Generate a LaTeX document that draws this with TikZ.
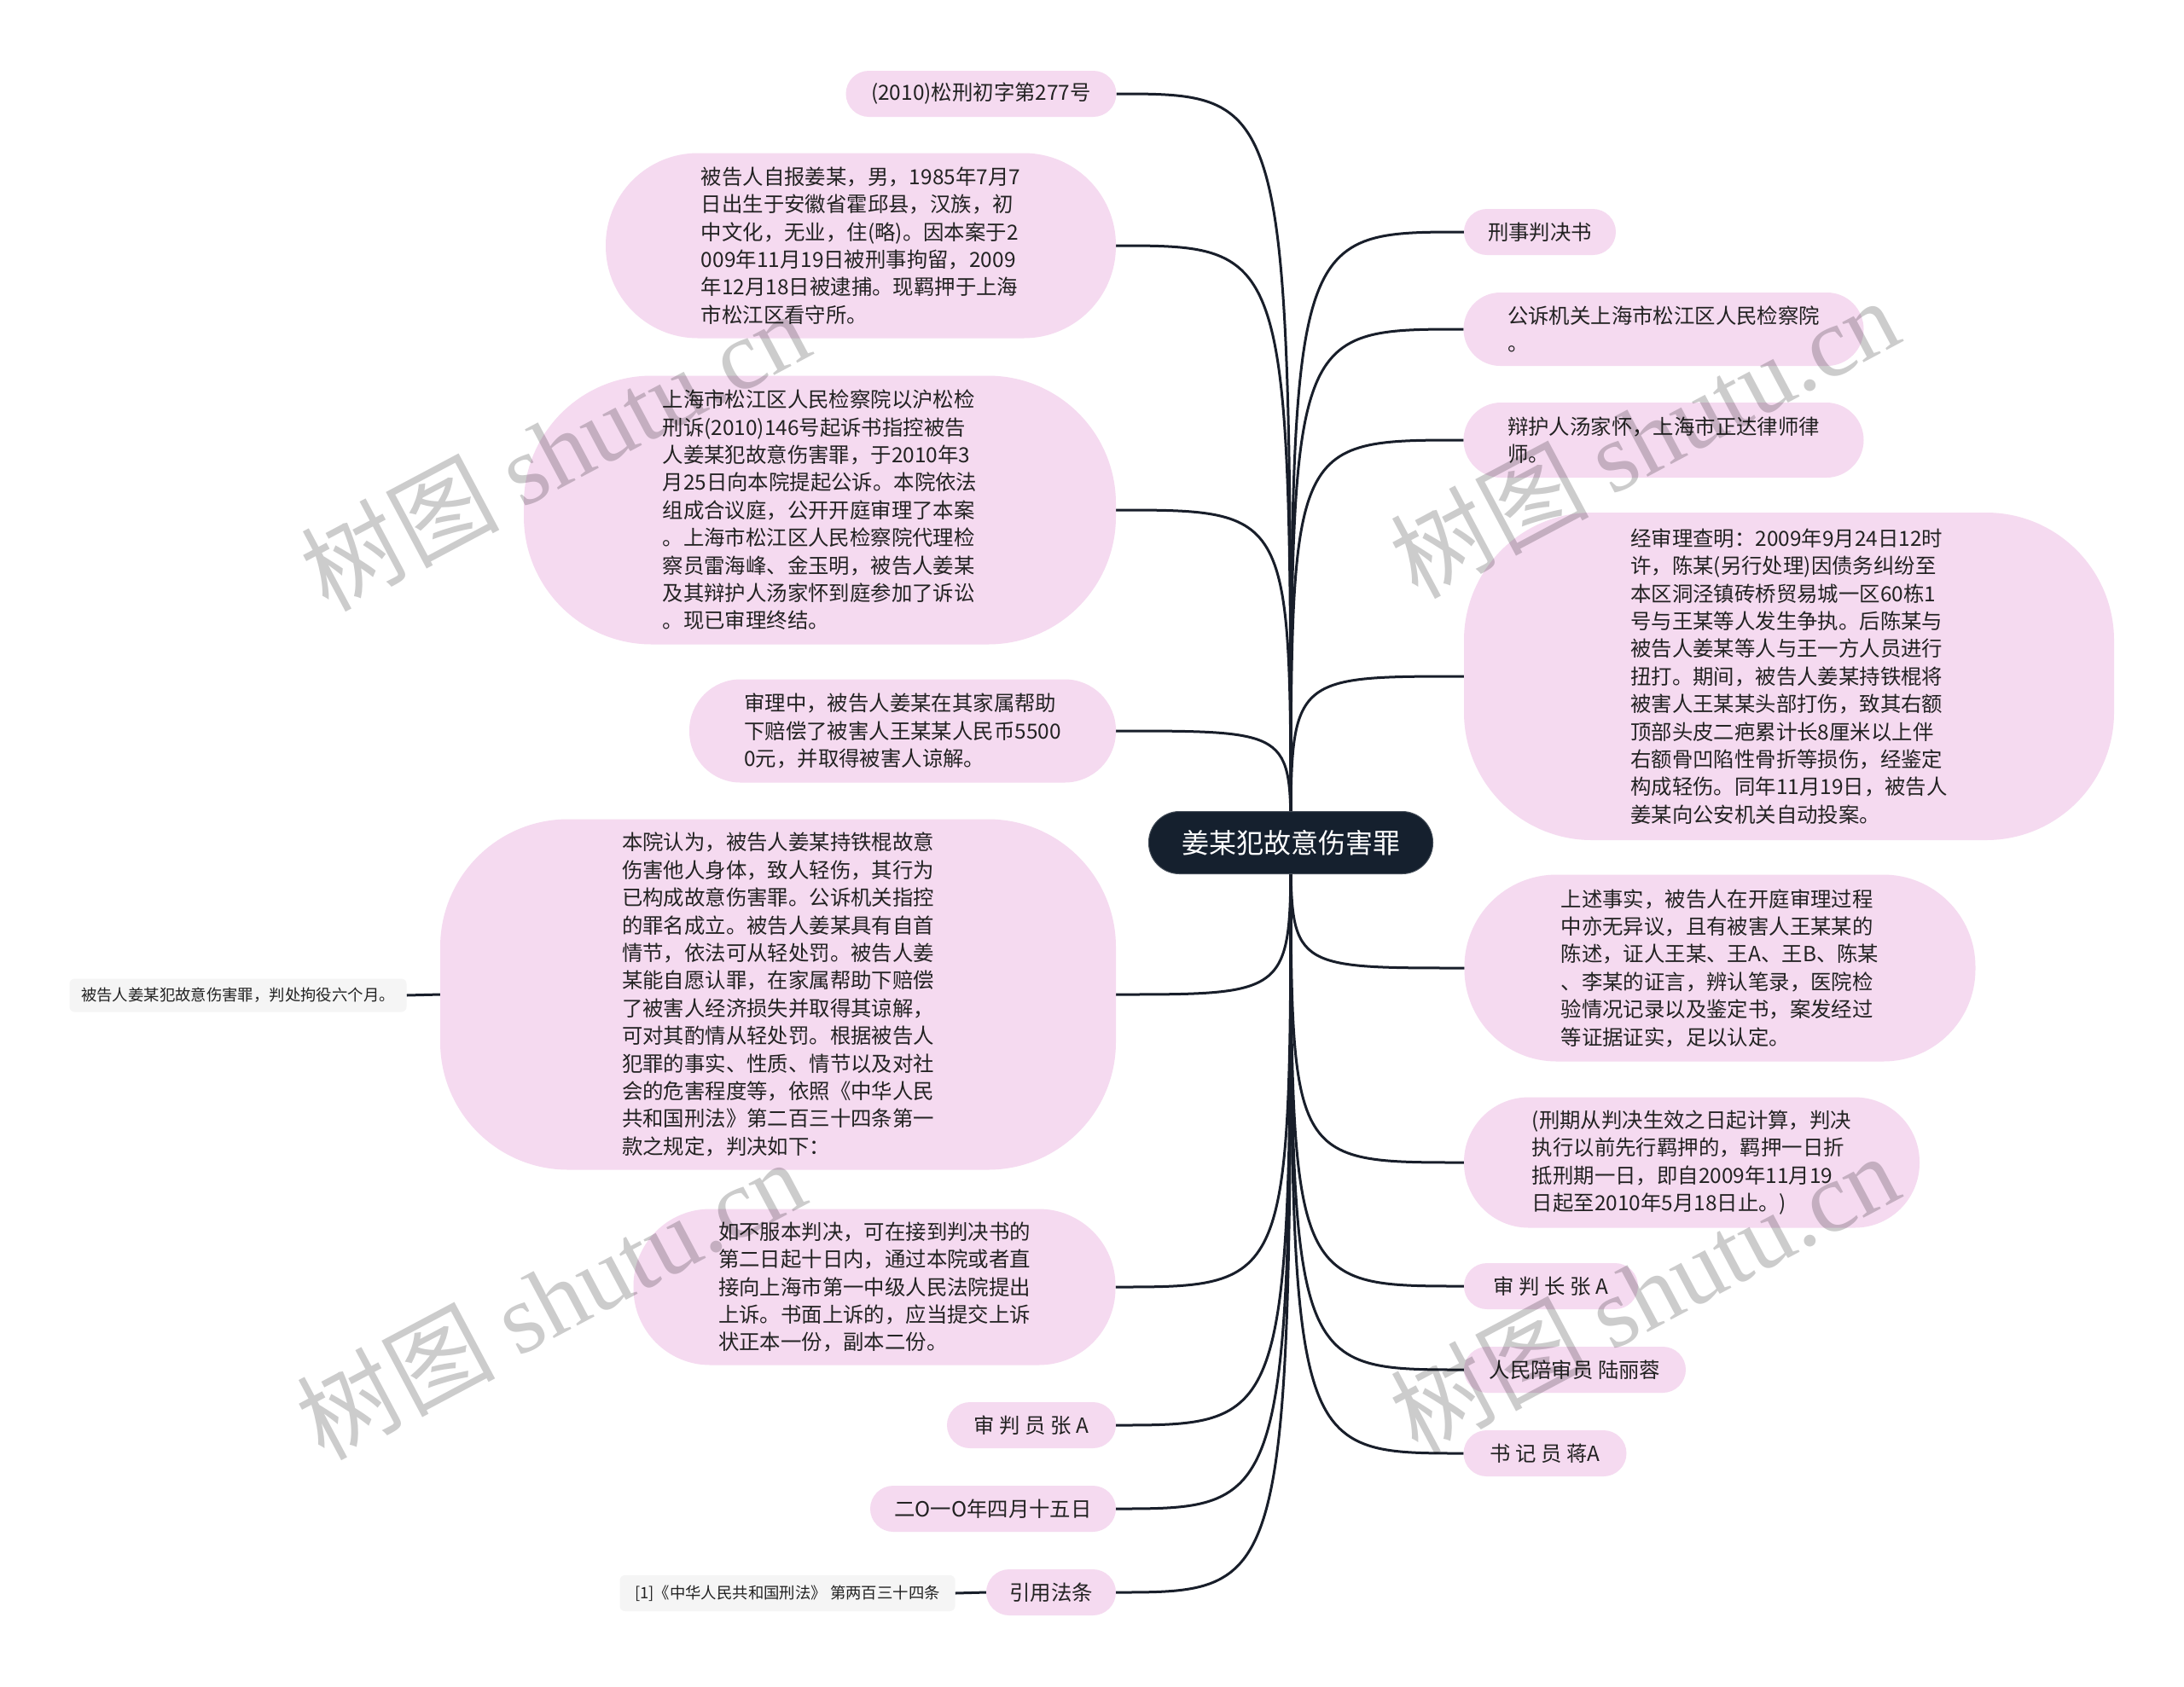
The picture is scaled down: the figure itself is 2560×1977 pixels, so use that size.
\documentclass[tikz,border=0pt]{standalone}
\usepackage{fontspec}
\setmainfont{Noto Sans CJK SC}
\newfontfamily\wmfont{Liberation Serif}
\usetikzlibrary{backgrounds}
\definecolor{pinkc}{RGB}{245,218,240}
\definecolor{leafc}{RGB}{245,245,245}
\definecolor{rootc}{RGB}{21,32,46}
\definecolor{linec}{RGB}{24,30,42}
\definecolor{txtc}{RGB}{34,34,34}
\begin{document}
\begin{tikzpicture}[x=0.5pt,y=-0.5pt,
  every node/.style={inner sep=0pt, outer sep=0pt},
  pill/.style={fill=pinkc, text=txtc, align=left, font=\fontsize{12.2pt}{16.2pt}\selectfont},
  small/.style={pill, minimum height=27pt, rounded corners=13.5pt},
  leaf/.style={fill=leafc, text=txtc, rounded corners=3pt, align=left, font=\fontsize{9.2pt}{12pt}\selectfont},
  rootbox/.style={fill=rootc, draw=rootc!80!white, line width=0.5pt, text=white, rounded corners=18pt, font=\fontsize{16pt}{20pt}\selectfont},
  conn/.style={draw=linec, line width=1.5pt},
  wm/.style={text=black, text opacity=0.2, rotate=28, font=\fontsize{58pt}{64pt}\selectfont}
]
\useasboundingbox (0,0) rectangle (2560,1977);

% root
\node[rootbox, minimum width=166.5pt, minimum height=36.5pt] (root) at (1513,988) {姜某犯故意伤害罪};

% left side
\node[small, minimum width=158.5pt] (L1) at (1150,110) {(2010)松刑初字第277号};
\node[pill, minimum width=299pt, minimum height=108.5pt, rounded corners=54pt] (L2) at (1009,288) {被告人自报姜某，男，1985年7月7\\日出生于安徽省霍邱县，汉族，初\\中文化，无业，住(略)。因本案于2\\009年11月19日被刑事拘留，2009\\年12月18日被逮捕。现羁押于上海\\市松江区看守所。};
\node[pill, minimum width=347pt, minimum height=157.5pt, rounded corners=75pt] (L3) at (961,598) {上海市松江区人民检察院以沪松检\\刑诉(2010)146号起诉书指控被告\\人姜某犯故意伤害罪，于2010年3\\月25日向本院提起公诉。本院依法\\组成合议庭，公开开庭审理了本案\\。上海市松江区人民检察院代理检\\察员雷海峰、金玉明，被告人姜某\\及其辩护人汤家怀到庭参加了诉讼\\。现已审理终结。};
\node[pill, minimum width=250pt, minimum height=60.5pt, rounded corners=30pt] (L4) at (1058,857) {审理中，被告人姜某在其家属帮助\\下赔偿了被害人王某某人民币5500\\0元，并取得被害人谅解。};
\node[pill, minimum width=396pt, minimum height=205.5pt, rounded corners=75pt] (L5) at (912,1166) {本院认为，被告人姜某持铁棍故意\\伤害他人身体，致人轻伤，其行为\\已构成故意伤害罪。公诉机关指控\\的罪名成立。被告人姜某具有自首\\情节，依法可从轻处罚。被告人姜\\某能自愿认罪，在家属帮助下赔偿\\了被害人经济损失并取得其谅解，\\可对其酌情从轻处罚。根据被告人\\犯罪的事实、性质、情节以及对社\\会的危害程度等，依照《中华人民\\共和国刑法》第二百三十四条第一\\款之规定，判决如下：};
\node[pill, minimum width=282.5pt, minimum height=91.5pt, rounded corners=45pt] (L6) at (1025,1509) {如不服本判决，可在接到判决书的\\第二日起十日内，通过本院或者直\\接向上海市第一中级人民法院提出\\上诉。书面上诉的，应当提交上诉\\状正本一份，副本二份。};
\node[small, minimum width=99pt] (L7) at (1209,1671) {审 判 员 张 A};
\node[small, minimum width=144pt] (L8) at (1164,1769) {二O一O年四月十五日};
\node[small, minimum width=76pt] (L9) at (1232,1867) {引用法条};
\node[leaf, minimum width=197.5pt, minimum height=19.5pt] (LL5) at (279,1167) {被告人姜某犯故意伤害罪，判处拘役六个月。};
\node[leaf, minimum width=196.5pt, minimum height=21pt] (LL9) at (923,1868) {[1]《中华人民共和国刑法》 第两百三十四条};

% right side
\node[small, minimum width=89pt] (R1) at (1805,272) {刑事判决书};
\node[pill, minimum width=234.5pt, minimum height=43pt, rounded corners=21.5pt] (R2) at (1950,386) {公诉机关上海市松江区人民检察院\\。};
\node[pill, minimum width=234.5pt, minimum height=44pt, rounded corners=22pt] (R3) at (1950,516) {辩护人汤家怀，上海市正达律师律\\师。};
\node[pill, minimum width=381pt, minimum height=192pt, rounded corners=75pt] (R4) at (2097,793) {经审理查明：2009年9月24日12时\\许，陈某(另行处理)因债务纠纷至\\本区洞泾镇砖桥贸易城一区60栋1\\号与王某等人发生争执。后陈某与\\被告人姜某等人与王一方人员进行\\扭打。期间，被告人姜某持铁棍将\\被害人王某某头部打伤，致其右额\\顶部头皮二疤累计长8厘米以上伴\\右额骨凹陷性骨折等损伤，经鉴定\\构成轻伤。同年11月19日，被告人\\姜某向公安机关自动投案。};
\node[pill, minimum width=299.5pt, minimum height=109.5pt, rounded corners=54pt] (R5) at (2016,1135) {上述事实，被告人在开庭审理过程\\中亦无异议，且有被害人王某某的\\陈述，证人王某、王A、王B、陈某\\、李某的证言，辨认笔录，医院检\\验情况记录以及鉴定书，案发经过\\等证据证实，足以认定。};
\node[pill, minimum width=267pt, minimum height=76.5pt, rounded corners=38pt] (R6) at (1983,1363) {(刑期从判决生效之日起计算，判决\\执行以前先行羁押的，羁押一日折\\抵刑期一日，即自2009年11月19\\日起至2010年5月18日止。)};
\node[small, minimum width=102pt] (R7) at (1818,1508) {审 判 长 张 A};
\node[small, minimum width=130pt] (R8) at (1846,1606) {人民陪审员 陆丽蓉};
\node[small, minimum width=95.5pt] (R9) at (1811,1704) {书 记 员 蒋A};

\begin{scope}[on background layer]
\fill[white] (0,0) rectangle (2560,1977);
\foreach \n in {L1,L2,L3,L4,L5,L6,L7,L8,L9}
  \draw[conn] (root.center) .. controls (root.center |- \n.east) .. (\n.east);
\foreach \n in {R1,R2,R3,R4,R5,R6,R7,R8,R9}
  \draw[conn] (root.center) .. controls (root.center |- \n.west) .. (\n.west);
\draw[conn] (L5.west) -- (LL5.east);
\draw[conn] (L9.west) -- (LL9.east);
\end{scope}

% watermarks
\node[wm] (w1) at (650,527) {树图 {\wmfont shutu.cn}};
\node[wm] (w2) at (1927,512) {树图 {\wmfont shutu.cn}};
\node[wm] (w3) at (645,1522) {树图 {\wmfont shutu.cn}};
\node[wm] (w4) at (1927,1515) {树图 {\wmfont shutu.cn}};
\end{tikzpicture}
\end{document}
